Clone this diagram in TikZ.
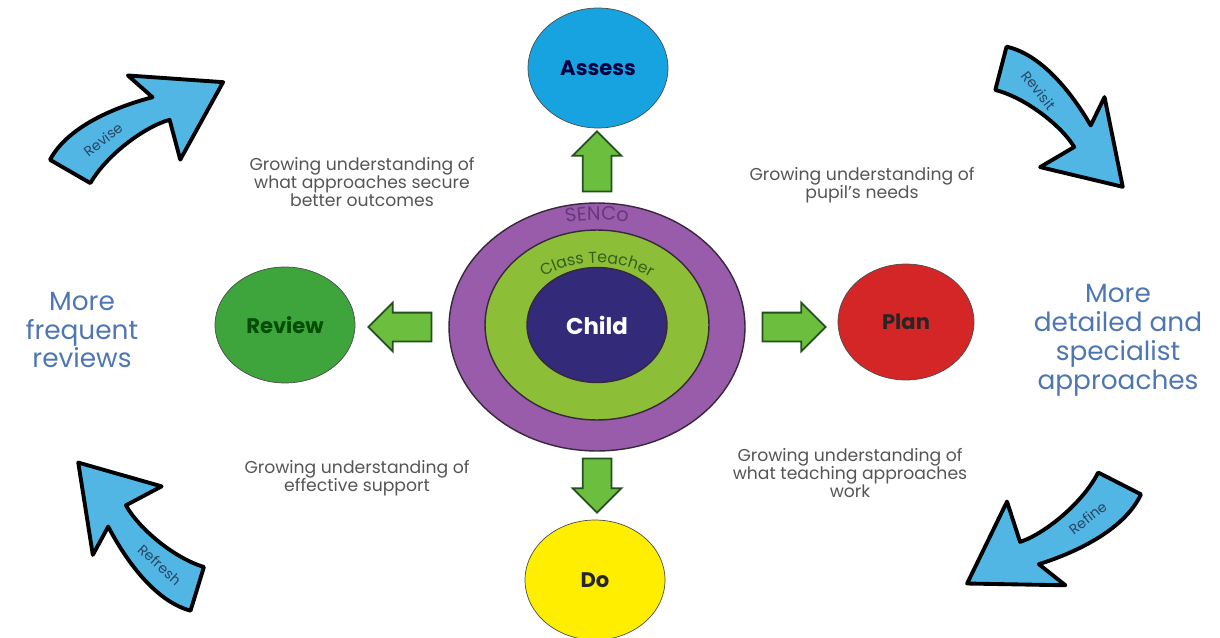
\documentclass[tikz,border=0pt]{standalone}
\usepackage{fontspec}
\setmainfont{Poppins}
\usepackage{xcolor}
\usetikzlibrary{shapes, shapes.arrows, positioning, calc, decorations.text}
\definecolor{AssessBlue}{RGB}{22,163,224}
\definecolor{ReviewGreen}{RGB}{62,164,60}
\definecolor{PlanRed}{RGB}{212,38,38}
\definecolor{DoYellow}{RGB}{255,238,0}
\definecolor{ChildIndigo}{RGB}{52,42,122}
\definecolor{TeacherGreen}{RGB}{140,190,55}
\definecolor{SencoPurple}{RGB}{152,92,170}
\definecolor{SencoText}{RGB}{105,55,125}
\definecolor{TeacherText}{RGB}{55,95,30}
\definecolor{RingEdge}{RGB}{55,40,60}
\definecolor{ArrowGreen}{RGB}{108,190,62}
\definecolor{ArrowEdge}{RGB}{35,80,30}
\definecolor{BendBlue}{RGB}{82,182,228}
\definecolor{BendText}{RGB}{40,70,100}
\definecolor{NoteGrey}{RGB}{85,85,85}
\definecolor{SideBlue}{RGB}{78,118,178}

\newcommand{\bendarrow}[2]{%
    \filldraw[bendshape] (-14,16) .. controls (20,38) and (75,29) .. (106,21) -- (95,52) -- (175,0) -- (100,-47) -- (110,-7) .. controls (85,-1) and (38,-7) .. (10,-24) -- cycle;
    \node[bendlabel, rotate=#1] (#2) at (42,8) {#2};
}

\begin{document}
\begin{tikzpicture}[
        x=0.02cm, y=0.02cm,
        stage/.style={ellipse, draw=black!70, thin, inner sep=0pt, minimum width=2.8cm, minimum height=2.4cm, font=\fontsize{12}{14}\selectfont\bfseries},
        ring/.style={ellipse, draw=RingEdge, line width=0.8pt, inner sep=0pt},
        garrow/.style={single arrow, draw=ArrowEdge, fill=ArrowGreen, line width=1pt, inner xsep=0pt, inner ysep=0.27cm, minimum height=1.2cm, single arrow head extend=0.2cm, anchor=tail},
        note/.style={align=center, text=NoteGrey, font=\fontsize{9.8}{10.4}\selectfont},
        side/.style={align=center, text=SideBlue, font=\fontsize{15}{16.5}\selectfont},
        bendshape/.style={fill=BendBlue, draw=black, line width=2.2pt, line join=round},
        bendlabel/.style={text=BendText, font=\fontsize{8}{9}\selectfont}
    ]

    \useasboundingbox (0,0) rectangle (1220,637);

    % centre rings
    \node[ring, fill=SencoPurple, minimum width=5.92cm, minimum height=4.96cm] (senco) at (597,310) {};
    \node[ring, fill=TeacherGreen, minimum width=4.48cm, minimum height=3.8cm] (teacher) at (597,312) {};
    \node[ring, fill=ChildIndigo, minimum width=2.8cm, minimum height=2.3cm, text=white, font=\fontsize{13}{15}\selectfont\bfseries] (child) at (597,312) {Child};

    \path[decorate, decoration={text along path, text align=center, text={|\fontsize{11}{12}\selectfont\color{SencoText}|SENCo}}]
        ($(senco.center)+(135:130 and 107)$) arc[start angle=135, end angle=45, x radius=130, y radius=107];
    \path[decorate, decoration={text along path, text align=center, text={|\fontsize{9}{10}\selectfont\color{TeacherText}|Class Teacher}}]
        ($(senco.center)+(155:86 and 64)$) arc[start angle=155, end angle=25, x radius=86, y radius=64];

    % stages
    \node[stage, fill=AssessBlue, text=black!75!blue] (assess) at (598,569) {Assess};
    \node[stage, fill=PlanRed, text=black!85, minimum width=2.72cm, minimum height=2.32cm] (plan) at (906,315) {Plan};
    \node[stage, fill=DoYellow, text=black!85] (do) at (595,57) {Do};
    \node[stage, fill=ReviewGreen, text=black!70!green, minimum height=2.32cm] (review) at (285,312) {Review};

    % green arrows
    \node[garrow, rotate=90] (toAssess) at ([yshift=0.2cm]senco.north) {};
    \node[garrow, rotate=-90, minimum height=1.08cm] (toDo) at ([yshift=-0.12cm]senco.south) {};
    \node[garrow, rotate=180, minimum height=1.26cm] (toReview) at ([xshift=-0.32cm]senco.west) {};
    \node[garrow, minimum height=1.26cm] (toPlan) at ([xshift=0.32cm]senco.east) {};

    % notes
    \node[note] (outcomes) at (362,455) {Growing understanding of\\what approaches secure\\better outcomes};
    \node[note] (needs) at (862,452) {Growing understanding of\\pupil's needs};
    \node[note] (support) at (357,159) {Growing understanding of\\effective support};
    \node[note] (teaching) at (850,164) {Growing understanding of\\what teaching approaches\\work};

    \node[side] (frequent) at (82,307) {More\\frequent\\reviews};
    \node[side] (specialist) at (1118,297) {More\\detailed and\\specialist\\approaches};

    % blue arrows
    \begin{scope}[shift={(70,470)}, rotate=29]
        \bendarrow{38}{Revise}
    \end{scope}
    \begin{scope}[shift={(1005,570)}, rotate=-45.5, scale=0.96]
        \bendarrow{-52}{Revisit}
    \end{scope}
    \begin{scope}[shift={(193,47)}, rotate=132, scale=0.98]
        \bendarrow{-42}{Refresh}
    \end{scope}
    \begin{scope}[shift={(1120,149)}, rotate=212, scale=1.03]
        \bendarrow{38}{Refine}
    \end{scope}

\end{tikzpicture}
\end{document}
